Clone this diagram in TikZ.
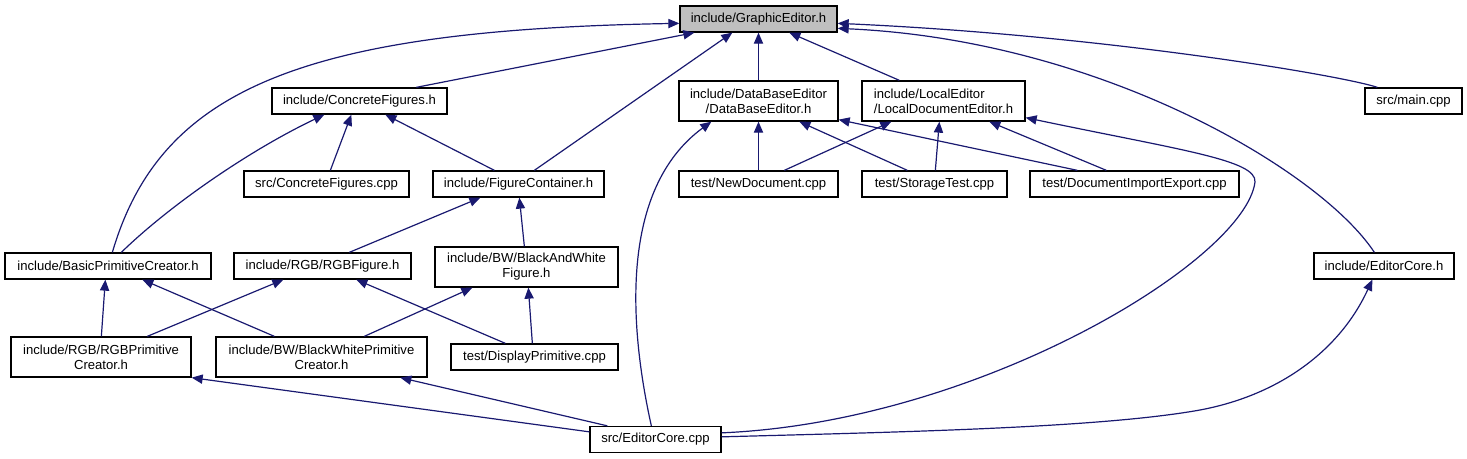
\documentclass[tikz,border=0pt]{standalone}
\usepackage{fontspec}
\setmainfont{Liberation Sans}
\usetikzlibrary{arrows.meta,calc}
\definecolor{edgeblue}{HTML}{191970}
\definecolor{rootgray}{HTML}{BFBFBF}
\tikzset{
  box/.style={draw=black,line width=0.65pt,fill=white,inner sep=0pt,align=center,
    font=\fontsize{6.55}{7.5}\selectfont},
  sz/.style 2 args={minimum width=#1*0.5pt,minimum height=#2*0.5pt},
  edge/.style={draw=edgeblue,line width=0.6pt,-{Triangle[length=5.5pt,width=4.6pt]}}
}
\begin{document}
\begin{tikzpicture}[x=0.5pt,y=-0.5pt]
\useasboundingbox (0,0) rectangle (1467,459);
% nodes
\node[box,sz={157}{26},fill=rootgray] (GE) at (758.5,19) {include/GraphicEditor.h};
\node[box,sz={175}{26}] (CF) at (359.5,101) {include/ConcreteFigures.h};
\node[box,sz={159}{40}] (DBE) at (758.5,101) {include/DataBaseEditor\\/DataBaseEditor.h};
\node[box,sz={163}{40},align=left] (LE) at (943.5,101) {include/LocalEditor\\/LocalDocumentEditor.h};
\node[box,sz={97}{26}] (MAIN) at (1413.5,101) {src/main.cpp};
\node[box,sz={165}{26}] (CFC) at (326.5,184) {src/ConcreteFigures.cpp};
\node[box,sz={171}{26}] (FC) at (518.5,184) {include/FigureContainer.h};
\node[box,sz={159}{26}] (ND) at (758.5,184) {test/NewDocument.cpp};
\node[box,sz={145}{26}] (ST) at (934.5,184) {test/StorageTest.cpp};
\node[box,sz={209}{26}] (DIE) at (1134.5,184) {test/DocumentImportExport.cpp};
\node[box,sz={206}{26}] (BPC) at (108,266) {include/BasicPrimitiveCreator.h};
\node[box,sz={177}{26}] (RGBF) at (322.5,266) {include/RGB/RGBFigure.h};
\node[box,sz={183}{40}] (BWF) at (526.5,267) {include/BW/BlackAndWhite\\Figure.h};
\node[box,sz={140}{26}] (ECH) at (1384,266) {include/EditorCore.h};
\node[box,sz={180}{40}] (RGBPC) at (101,357) {include/RGB/RGBPrimitive\\Creator.h};
\node[box,sz={211}{40}] (BWPC) at (321.5,357) {include/BW/BlackWhitePrimitive\\Creator.h};
\node[box,sz={167}{26}] (DP) at (534.5,357) {test/DisplayPrimitive.cpp};
\node[box,sz={131}{26}] (ECC) at (655.5,439.5) {src/EditorCore.cpp};
% edges to GraphicEditor
\draw[edge] ($(BPC.north west)+(108,0)$) .. controls (160,90) and (300,30) .. ($(GE.north west)+(0,18)$);
\draw[edge] ($(CF.north west)+(145,0)$) -- ($(GE.south west)+(15,0)$);
\draw[edge] ($(FC.north west)+(102,0)$) -- ($(GE.south west)+(53,0)$);
\draw[edge] (DBE.north) -- (GE.south);
\draw[edge] ($(LE.north west)+(38,0)$) -- ($(GE.south west)+(110,0)$);
\draw[edge] ($(ECH.north west)+(61,0)$) .. controls (1320,170) and (1100,40) .. ($(GE.north east)+(0,23)$);
\draw[edge] ($(MAIN.north west)+(13,0)$) .. controls (1340,75) and (1100,35) .. ($(GE.north east)+(0,18)$);
% edges to ConcreteFigures
\draw[edge] ($(BPC.north west)+(117,0)$) .. controls (170,205) and (250,150) .. ($(CF.south west)+(53,0)$);
\draw[edge] ($(CFC.north west)+(87,0)$) -- ($(CF.south west)+(80,0)$);
\draw[edge] ($(FC.north west)+(62,0)$) -- ($(CF.south west)+(114,0)$);
% edges to FigureContainer
\draw[edge] ($(RGBF.north west)+(116,0)$) -- ($(FC.south west)+(48,0)$);
\draw[edge] ($(BWF.north west)+(90,0)$) -- ($(FC.south west)+(87,0)$);
% edges to BasicPrimitiveCreator
\draw[edge] ($(RGBPC.north west)+(91,0)$) -- ($(BPC.south west)+(101,0)$);
\draw[edge] ($(BWPC.north west)+(59,0)$) -- ($(BPC.south west)+(138,0)$);
% edges to RGBFigure
\draw[edge] ($(RGBPC.north west)+(137,0)$) -- ($(RGBF.south west)+(50,0)$);
\draw[edge] ($(DP.north west)+(55,0)$) -- ($(RGBF.south west)+(123,0)$);
% edges to BlackAndWhiteFigure
\draw[edge] ($(BWPC.north west)+(149,0)$) -- ($(BWF.south west)+(38,0)$);
\draw[edge] ($(DP.north west)+(82,0)$) -- ($(BWF.south west)+(94,0)$);
% edges from EditorCore.cpp
\draw[edge] ($(ECC.north west)+(0,6)$) -- (RGBPC.south east);
\draw[edge] ($(ECC.north west)+(18,0)$) -- ($(BWPC.south west)+(185,0)$);
\draw[edge] ($(ECC.north west)+(62,0)$) .. controls (630,330) and (618,190) .. ($(DBE.south west)+(33,0)$);
\draw[edge] ($(ECC.north east)+(0,7)$) .. controls (980,422) and (1245,260) .. (1255,182)
  .. controls (1257,160) and (1180,150) .. ($(LE.south east)+(0,-4)$);
\draw[edge] ($(ECC.north east)+(0,11)$) .. controls (900,432) and (1100,428) .. (1200,410)
  .. controls (1280,395) and (1340,350) .. ($(ECH.south west)+(59,0)$);
% edges to DataBaseEditor
\draw[edge] (ND.north) -- (DBE.south);
\draw[edge] ($(ST.north west)+(46,0)$) -- ($(DBE.south west)+(121,0)$);
\draw[edge] ($(DIE.north west)+(48,0)$) -- ($(DBE.south east)+(0,-2)$);
% edges to LocalEditor
\draw[edge] ($(ND.north west)+(106,0)$) -- ($(LE.south west)+(30,0)$);
\draw[edge] ($(ST.north west)+(74,0)$) -- ($(LE.south west)+(78,0)$);
\draw[edge] ($(DIE.north west)+(77,0)$) -- ($(LE.south west)+(128,0)$);
\end{tikzpicture}
\end{document}
